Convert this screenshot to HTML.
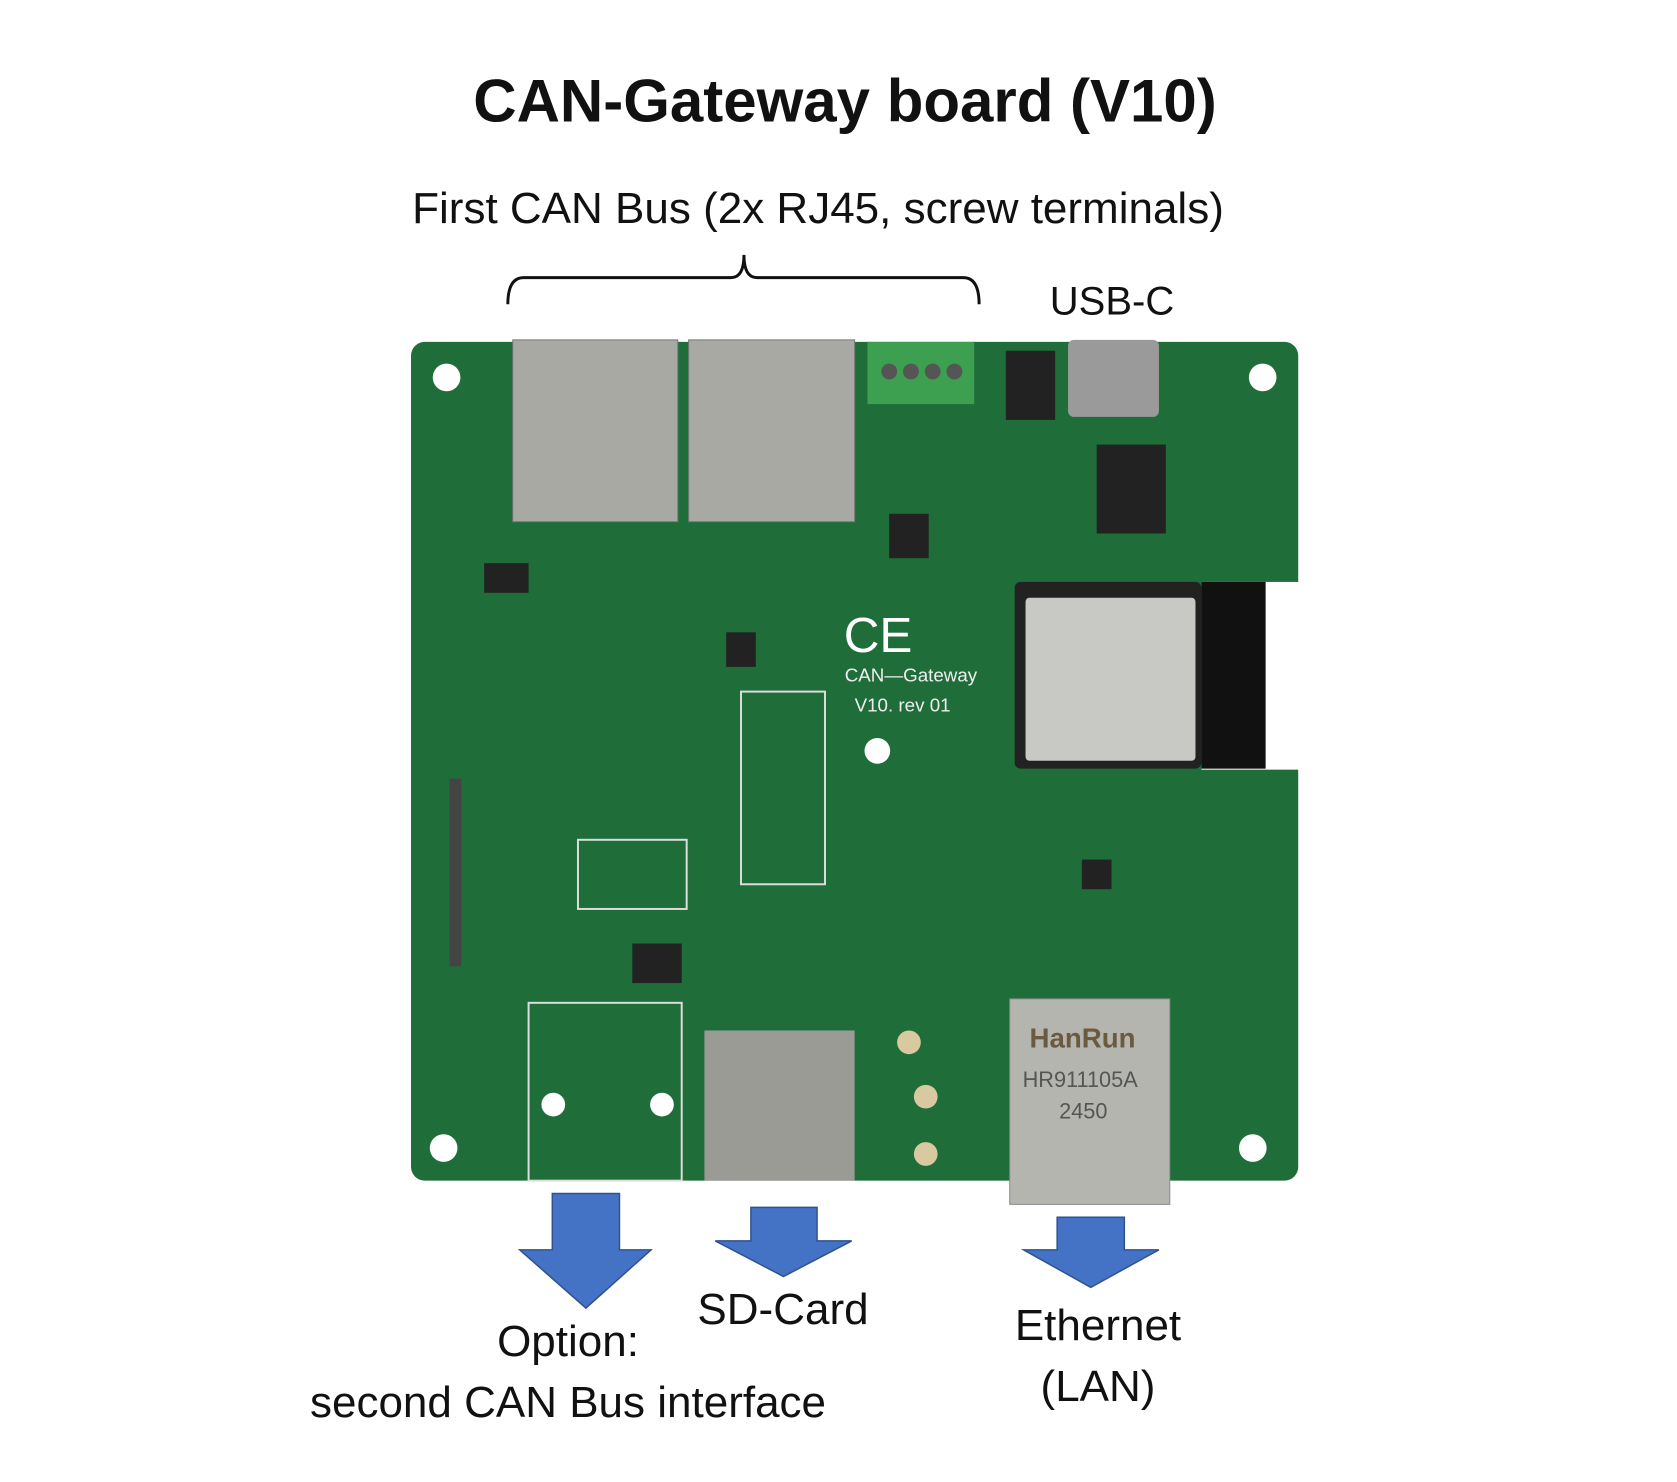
<!DOCTYPE html>
<html><head><style>
body{margin:0;width:1677px;height:1482px;background:#fff;position:relative;overflow:hidden;font-family:"Liberation Sans",sans-serif}
.t{position:absolute;white-space:nowrap;transform:translate(-50%,-50%);color:#111;font-size:44px}
.a{position:absolute}
</style></head><body>
<div class="t" style="left:845px;top:101px;font-size:60px;font-weight:bold">CAN-Gateway board (V10)</div>
<div class="t" style="left:818px;top:209px">First CAN Bus (2x RJ45, screw terminals)</div>
<div class="t" style="left:1112px;top:302px;font-size:40px">USB-C</div>
<svg class="a" style="left:0;top:0" width="1677" height="1482">
<g transform="scale(0.988)">
<path d="M514,308 Q514,281 530,281 L740,281 Q753,281 753,258 Q753,281 766,281 L975,281 Q991,281 991,308" fill="none" stroke="#111" stroke-width="3"/>
<rect x="416" y="346" width="898" height="849" rx="14" fill="#1f6e3a"/>
<rect x="1216" y="589" width="100" height="190" fill="#fff"/>
<rect x="1216" y="589" width="65" height="189" fill="#111"/>
<g fill="#fff"><circle cx="452" cy="382" r="14"/><circle cx="1278" cy="382" r="14"/><circle cx="449" cy="1162" r="14"/><circle cx="1268" cy="1162" r="14"/><circle cx="888" cy="760" r="13"/></g>
<rect x="519" y="344" width="167" height="184" fill="#a9a9a4" stroke="#777"/>
<rect x="697" y="344" width="168" height="184" fill="#a9a9a4" stroke="#777"/>
<rect x="878" y="346" width="108" height="63" fill="#3da050"/>
<g fill="#555"><circle cx="900" cy="376" r="8"/><circle cx="922" cy="376" r="8"/><circle cx="944" cy="376" r="8"/><circle cx="966" cy="376" r="8"/></g>
<rect x="1081" y="344" width="92" height="78" fill="#9a9a9a" rx="6"/>
<rect x="1018" y="355" width="50" height="70" fill="#222"/>
<rect x="1027" y="589" width="189" height="189" fill="#222" rx="6"/>
<rect x="1038" y="605" width="172" height="165" fill="#c8c8c4" rx="4"/>
<rect x="1110" y="450" width="70" height="90" fill="#222"/>
<rect x="1095" y="870" width="30" height="30" fill="#222"/>
<rect x="900" y="520" width="40" height="45" fill="#222"/>
<rect x="735" y="640" width="30" height="35" fill="#222"/>
<rect x="585" y="850" width="110" height="70" fill="none" stroke="#ddd" stroke-width="2"/>
<rect x="750" y="700" width="85" height="195" fill="none" stroke="#ddd" stroke-width="2"/>
<rect x="640" y="955" width="50" height="40" fill="#222"/>
<rect x="490" y="570" width="45" height="30" fill="#222"/>
<rect x="535" y="1015" width="155" height="180" fill="none" stroke="#ddd" stroke-width="2"/>
<g fill="#fff"><circle cx="560" cy="1118" r="12"/><circle cx="670" cy="1118" r="12"/></g>
<rect x="713" y="1043" width="152" height="152" fill="#9b9b96"/>
<rect x="1022" y="1011" width="162" height="208" fill="#b5b5b0" stroke="#888"/>
<g fill="#d8c9a0"><circle cx="920" cy="1055" r="12"/><circle cx="937" cy="1110" r="12"/><circle cx="937" cy="1168" r="12"/></g>
<rect x="455" y="788" width="12" height="190" fill="#444"/>
<text x="854" y="660" font-size="50" fill="#fff" font-family="Liberation Sans">CE</text>
<text x="855" y="690" font-size="19" fill="#eee" font-family="Liberation Sans">CAN—Gateway</text>
<text x="865" y="720" font-size="19" fill="#eee" font-family="Liberation Sans">V10. rev 01</text>
<text x="1042" y="1060" font-size="28" font-weight="bold" fill="#6a5a40" font-family="Liberation Sans">HanRun</text>
<text x="1035" y="1100" font-size="22" fill="#555" font-family="Liberation Sans">HR911105A</text>
<text x="1072" y="1132" font-size="22" fill="#555" font-family="Liberation Sans">2450</text>
<g fill="#4472c4" stroke="#2f528f" stroke-width="1.5">
<path d="M559,1208 H627 V1265 H659 L593,1324 L526,1265 H559 Z"/>
<path d="M760,1222 H827 V1256 H862 L793,1292 L724,1256 H760 Z"/>
<path d="M1070,1232 H1138 V1265 H1173 L1104,1303 L1036,1265 H1070 Z"/>
</g>
</g>
</svg>
<div class="t" style="left:568px;top:1342px">Option:</div>
<div class="t" style="left:568px;top:1403px">second CAN Bus interface</div>
<div class="t" style="left:783px;top:1310px">SD-Card</div>
<div class="t" style="left:1098px;top:1326px">Ethernet</div>
<div class="t" style="left:1098px;top:1387px">(LAN)</div>
</body></html>
